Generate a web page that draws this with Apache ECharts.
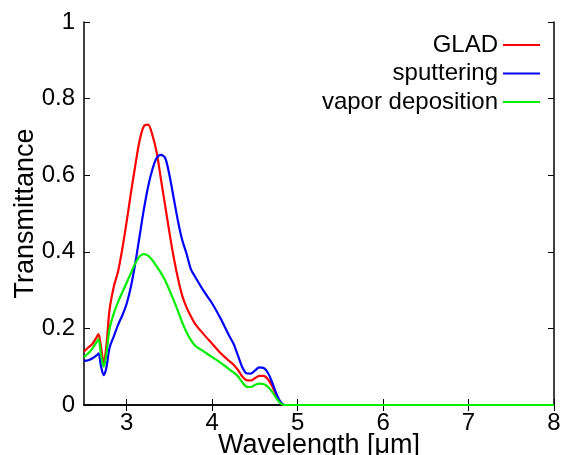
<!DOCTYPE html>
<html><head><meta charset="utf-8">
<script src="https://cdn.jsdelivr.net/npm/echarts@6/dist/echarts.min.js"></script>
<style>html,body{margin:0;padding:0;background:#fff}#c{width:564px;height:455px}</style>
</head><body><div id="c"></div>
<script>
const wavelength = [2.5,2.55,2.6,2.65,2.67,2.7,2.73,2.76,2.8,2.85,2.9,2.95,3.0,3.05,3.1,3.15,3.2,3.25,3.3,3.35,3.4,3.45,3.5,3.55,3.6,3.65,3.7,3.75,3.8,3.9,4.0,4.1,4.2,4.25,4.3,4.35,4.4,4.45,4.5,4.55,4.6,4.65,4.7,4.75,4.8,4.85,5,6,7,8];
const glad = [0.140,0.150,0.160,0.178,0.185,0.150,0.110,0.150,0.250,0.310,0.350,0.410,0.480,0.555,0.625,0.690,0.728,0.732,0.705,0.660,0.590,0.520,0.450,0.385,0.330,0.285,0.255,0.232,0.212,0.185,0.160,0.135,0.115,0.105,0.092,0.075,0.065,0.064,0.070,0.076,0.076,0.068,0.050,0.025,0.005,0,0,0,0,0];
const sputtering = [0.115,0.117,0.122,0.130,0.135,0.100,0.078,0.095,0.150,0.180,0.210,0.235,0.265,0.310,0.370,0.440,0.510,0.570,0.615,0.645,0.653,0.645,0.600,0.540,0.480,0.430,0.395,0.355,0.335,0.298,0.265,0.225,0.180,0.160,0.130,0.100,0.083,0.082,0.090,0.098,0.097,0.085,0.060,0.030,0.008,0,0,0,0,0];
const vapor = [0.125,0.135,0.148,0.165,0.172,0.130,0.100,0.130,0.200,0.240,0.270,0.295,0.320,0.345,0.370,0.388,0.394,0.390,0.378,0.362,0.345,0.325,0.300,0.273,0.245,0.215,0.190,0.170,0.155,0.140,0.125,0.110,0.093,0.085,0.075,0.060,0.048,0.047,0.052,0.056,0.055,0.048,0.035,0.018,0.004,0,0,0,0,0];
const xTicks = [3,4,5,6,7,8];
const yTicks = [0,0.2,0.4,0.6,0.8,1];
const seriesNames = ['GLAD','sputtering','vapor deposition'];
const seriesColors = ['#ff0000','#0000ff','#00ee00'];

const pairs = ys => wavelength.map((x,i)=>[x,ys[i]]);
const FONT = 'Liberation Sans';
const chart = echarts.init(document.getElementById('c'), null, {renderer:'canvas'});
const tickStyle = {show:true,inside:true,length:6,lineStyle:{color:'#000',width:1}};
const lineStyleAx = {show:true,lineStyle:{color:'#000',width:1.5}};
chart.setOption({
  animation:false,
  backgroundColor:'#fff',
  grid:{left:84,right:10,top:22,bottom:50,containLabel:false,outerBoundsMode:'none'},
  legend: seriesNames.map((n,i)=>({
    data:[n], right:19, top:28+i*28.5, align:'right', itemWidth:37, itemHeight:2, icon:'rect',
    itemGap:6, textStyle:{fontFamily:FONT,fontSize:24,color:'#000'}, selectedMode:false
  })),
  xAxis:[
    {type:'value',min:2.5,max:8,position:'bottom',
      name:'Wavelength [\u03bcm]',nameLocation:'middle',nameGap:27,nameMoveOverlap:false,
      nameTextStyle:{fontFamily:FONT,fontSize:27,color:'#000',verticalAlign:'top'},
      axisLine:lineStyleAx, splitLine:{show:false},
      axisTick:Object.assign({customValues:xTicks},tickStyle),
      axisLabel:{fontFamily:FONT,fontSize:24,color:'#000',margin:6,customValues:xTicks}},
    {type:'value',min:2.5,max:8,position:'top',axisLabel:{show:false},
      axisLine:lineStyleAx, splitLine:{show:false},
      axisTick:Object.assign({customValues:xTicks},tickStyle)}
  ],
  yAxis:[
    {type:'value',min:0,max:1,interval:0.2,position:'left',
      name:'Transmittance',nameLocation:'middle',nameGap:45,nameMoveOverlap:false,
      nameTextStyle:{fontFamily:FONT,fontSize:27,color:'#000'},
      axisLine:lineStyleAx, splitLine:{show:false}, axisTick:tickStyle,
      axisLabel:{fontFamily:FONT,fontSize:24,color:'#000',margin:9,customValues:yTicks}},
    {type:'value',min:0,max:1,interval:0.2,position:'right',axisLabel:{show:false},
      axisLine:lineStyleAx, splitLine:{show:false}, axisTick:tickStyle}
  ],
  series:[glad,sputtering,vapor].map((d,i)=>({
    name:seriesNames[i],type:'line',data:pairs(d),smooth:0.3,showSymbol:false,symbol:'none',
    lineStyle:{color:seriesColors[i],width:2.2},itemStyle:{color:seriesColors[i]},z:2+i
  }))
});
</script></body></html>
